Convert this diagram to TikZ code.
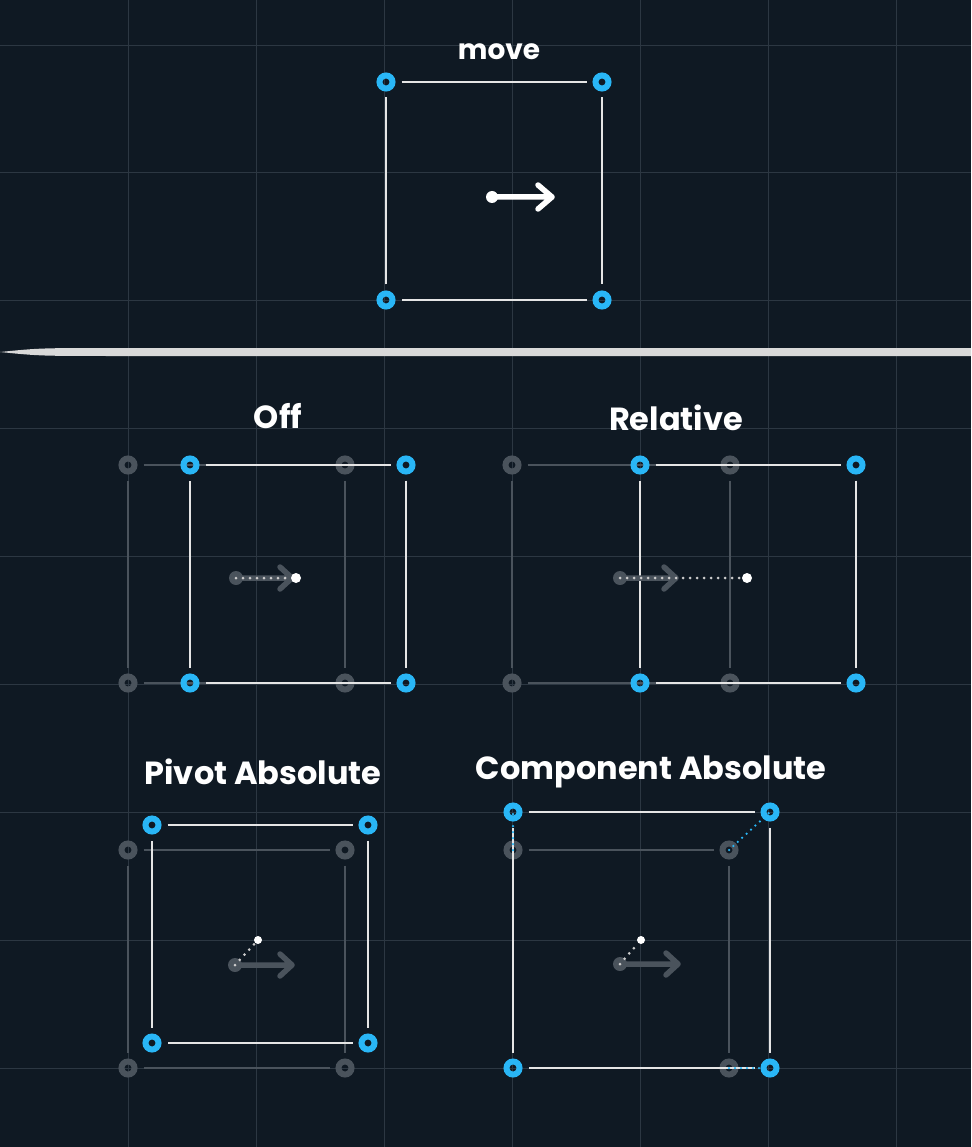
\documentclass[tikz,border=0pt]{standalone}
\usepackage{fontspec}
\setmainfont{Poppins}
\begin{document}
\begin{tikzpicture}[x=1pt,y=-1pt,
  bh/.style={circle,draw=hblue,line width=6pt,minimum size=13pt,inner sep=0pt},
  gh/.style={circle,draw=hgray,line width=6pt,minimum size=13pt,inner sep=0pt},
  wl/.style={draw=white!90!black,line width=2.2pt,shorten >=6pt,shorten <=6pt},
  gl/.style={draw=hgray,line width=2pt,shorten >=6pt,shorten <=6pt},
  garr/.style={draw=hgray,line width=5.5pt,line cap=round,line join=round},
  wdot/.style={circle,fill=white,inner sep=0pt,minimum size=10pt},
  dots/.style={draw=white!80!black,line width=3pt,line cap=round,dash pattern=on 0pt off 7pt},
  bdots/.style={draw=hblue,line width=2.5pt,line cap=round,dash pattern=on 0pt off 6pt},
  ttl/.style={text=white,font=\bfseries\fontsize{32}{32}\selectfont}]
\definecolor{bg}{HTML}{0F1923}
\definecolor{hblue}{HTML}{29B6F6}
\definecolor{hgray}{HTML}{4A535C}
\definecolor{grid}{HTML}{2C3742}
\fill[bg] (0,0) rectangle (971,1147);
\useasboundingbox (0,0) rectangle (971,1147);
\foreach \x in {128,256,...,896} \draw[grid,line width=0.8pt] (\x,0) -- (\x,1147);
\foreach \y in {45,172,300,428,556,684,812,940,1068} \draw[grid,line width=0.8pt] (0,\y) -- (971,\y);
% divider
\fill[white!85!black] (0,352) .. controls (40,348) .. (120,348) -- (971,348) -- (971,356) -- (120,356) .. controls (40,356) .. (0,352) -- cycle;
% top
\node[ttl,font=\bfseries\fontsize{28}{28}\selectfont] (tm) at (499,52) {move};
\node[bh] (m1) at (386,82) {}; \node[bh] (m2) at (602,82) {};
\node[bh] (m3) at (386,300) {}; \node[bh] (m4) at (602,300) {};
\draw[wl] (m1)--(m2); \draw[wl] (m2)--(m4); \draw[wl] (m4)--(m3); \draw[wl] (m3)--(m1);
\node[wdot,minimum size=12pt] (ma) at (492,197) {};
\coordinate (mb) at (552,197);
\draw[white,line width=5.5pt,line cap=round,line join=round] (ma.center)--(mb) (mb)--++(-14,-12) (mb)--++(-14,12);
% Off
\node[ttl] (t1) at (278,416) {Off};
\node[gh] (a1) at (128,465) {}; \node[gh] (a2) at (345,465) {};
\node[gh] (a3) at (128,683) {}; \node[gh] (a4) at (345,683) {};
\draw[gl] (a1)--(a2); \draw[gl] (a2)--(a4); \draw[gl] (a4)--(a3); \draw[gl] (a3)--(a1);
\node[bh] (b1) at (190,465) {}; \node[bh] (b2) at (406,465) {};
\node[bh] (b3) at (190,683) {}; \node[bh] (b4) at (406,683) {};
\draw[wl] (b1)--(b2); \draw[wl] (b2)--(b4); \draw[wl] (b4)--(b3); \draw[wl] (b3)--(b1);
\coordinate (oa) at (236,578); \coordinate (ob) at (292,578);
\draw[garr] (oa)--(ob) (ob)--++(-12,-11) (ob)--++(-12,11);
\fill[hgray] (oa) circle (7pt);
\node[wdot] (od) at (296,578) {};
\draw[dots] (oa)--(od);
% Relative
\node[ttl] (t2) at (676,418) {Relative};
\node[gh] (c1) at (512,465) {}; \node[gh] (c2) at (730,465) {};
\node[gh] (c3) at (512,683) {}; \node[gh] (c4) at (730,683) {};
\draw[gl] (c1)--(c2); \draw[gl] (c2)--(c4); \draw[gl] (c4)--(c3); \draw[gl] (c3)--(c1);
\node[bh] (d1) at (640,465) {}; \node[bh] (d2) at (856,465) {};
\node[bh] (d3) at (640,683) {}; \node[bh] (d4) at (856,683) {};
\draw[wl] (d1)--(d2); \draw[wl] (d2)--(d4); \draw[wl] (d4)--(d3); \draw[wl] (d3)--(d1);
\coordinate (ra) at (620,578); \coordinate (rb) at (676,578);
\draw[garr] (ra)--(rb) (rb)--++(-12,-11) (rb)--++(-12,11);
\fill[hgray] (ra) circle (7pt);
\node[wdot] (rd) at (747,578) {};
\draw[dots] (ra)--(rd);
% Pivot Absolute
\node[ttl] (t3) at (263,772) {Pivot Absolute};
\node[gh] (e1) at (128,850) {}; \node[gh] (e2) at (345,850) {};
\node[gh] (e3) at (128,1068) {}; \node[gh] (e4) at (345,1068) {};
\draw[gl] (e1)--(e2); \draw[gl] (e2)--(e4); \draw[gl] (e4)--(e3); \draw[gl] (e3)--(e1);
\node[bh] (f1) at (152,825) {}; \node[bh] (f2) at (368,825) {};
\node[bh] (f3) at (152,1043) {}; \node[bh] (f4) at (368,1043) {};
\draw[wl] (f1)--(f2); \draw[wl] (f2)--(f4); \draw[wl] (f4)--(f3); \draw[wl] (f3)--(f1);
\coordinate (pa) at (235,965); \coordinate (pb) at (292,965);
\draw[garr] (pa)--(pb) (pb)--++(-12,-11) (pb)--++(-12,11);
\fill[hgray] (pa) circle (7pt);
\node[wdot,minimum size=8pt] (pd) at (258,940) {};
\draw[dots] (pa)--(pd);
% Component Absolute
\node[ttl] (t4) at (651,772) {Component Absolute};
\node[gh] (g1) at (513,850) {}; \node[gh] (g2) at (729,850) {};
\node[gh] (g4) at (729,1068) {};
\draw[gl] (g1)--(g2); \draw[gl] (g2)--(g4);
\node[bh] (h1) at (513,812) {}; \node[bh] (h2) at (770,812) {};
\node[bh] (h3) at (513,1068) {}; \node[bh] (h4) at (770,1068) {};
\draw[wl] (h1)--(h2); \draw[wl] (h2)--(h4); \draw[wl] (h4)--(h3); \draw[wl] (h3)--(h1);
\draw[bdots] (g1.center)--(h1.center); \draw[bdots] (g2.center)--(h2.center); \draw[bdots] (g4.center)--(h4.center);
\coordinate (ca) at (620,964); \coordinate (cb) at (678,964);
\draw[garr] (ca)--(cb) (cb)--++(-12,-11) (cb)--++(-12,11);
\fill[hgray] (ca) circle (7pt);
\node[wdot,minimum size=8pt] (cd) at (641,940) {};
\draw[dots] (ca)--(cd);
\end{tikzpicture}
\end{document}
